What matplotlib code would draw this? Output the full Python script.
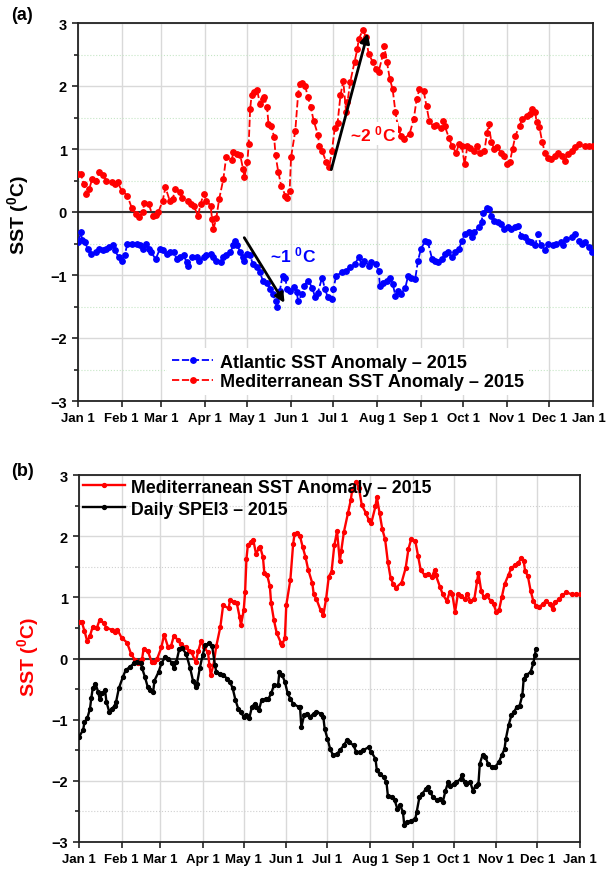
import numpy as np
import matplotlib
matplotlib.use("Agg")
import matplotlib.pyplot as plt
import matplotlib.transforms as mtransforms
from matplotlib.ticker import MultipleLocator

plt.rcParams['font.family'] = ['Liberation Sans', 'DejaVu Sans']
plt.rcParams['font.weight'] = 'bold'
plt.rcParams['mathtext.fontset'] = 'custom'
plt.rcParams['mathtext.rm'] = 'Liberation Sans:bold'
plt.rcParams['mathtext.it'] = 'Liberation Sans:bold'
plt.rcParams['mathtext.bf'] = 'Liberation Sans:bold'

# day of year (0 = Jan 1) and values
month_days = [0, 31, 59, 90, 120, 151, 181, 212, 243, 273, 304, 334, 365]
month_labels = ['Jan 1', 'Feb 1', 'Mar 1', 'Apr 1', 'May 1', 'Jun 1', 'Jul 1',
                'Aug 1', 'Sep 1', 'Oct 1', 'Nov 1', 'Dec 1', 'Jan 1']

med_days = [0, 2, 4, 6, 8, 10, 13, 15, 18, 20, 24, 26, 28, 31, 35, 38, 41, 43, 46, 47,
            50, 53, 55, 57, 60, 62, 65, 67, 69, 72, 74, 78, 80, 82, 85, 87, 89, 91, 94, 95,
            96, 98, 100, 103, 105, 109, 110, 113, 115, 117, 118, 120, 121, 122, 123, 125,
            127, 129, 131, 132, 134, 135, 137, 139, 140, 142, 144, 147, 148, 150, 151, 154,
            156, 157, 159, 161, 163, 165, 167, 170, 171, 173, 176, 178, 180, 182, 184, 186,
            188, 190, 191, 193, 196, 198, 199, 202, 204, 206, 209, 211, 213, 216, 217, 219,
            221, 223, 225, 227, 229, 231, 235, 238, 240, 242, 245, 247, 249, 252, 254, 257,
            259, 260, 263, 265, 268, 270, 272, 274, 276, 278, 281, 283, 285, 288, 290, 291,
            293, 295, 297, 300, 302, 304, 306, 308, 310, 313, 315, 318, 320, 322, 324, 325,
            327, 329, 331, 333, 335, 338, 340, 343, 345, 347, 350, 352, 355, 359, 362, 365]
med_vals = [0.60, 0.60, 0.45, 0.28, 0.37, 0.52, 0.50, 0.63, 0.58, 0.50, 0.47, 0.44, 0.47,
            0.34, 0.26, 0.07, -0.03, -0.08, 0.00, 0.15, 0.13, -0.06, -0.05, 0.00, 0.18, 0.39,
            0.18, 0.20, 0.36, 0.31, 0.23, 0.18, 0.13, 0.10, -0.06, 0.13, 0.29, 0.18, 0.10,
            -0.11, -0.27, -0.10, 0.20, 0.52, 0.87, 0.82, 0.95, 0.92, 0.90, 0.68, 0.55, 0.79,
            1.08, 1.63, 1.85, 1.90, 1.93, 1.71, 1.80, 1.82, 1.66, 1.40, 1.37, 1.19, 0.90,
            0.63, 0.42, 0.26, 0.22, 0.34, 0.87, 1.29, 1.87, 2.03, 2.05, 2.00, 1.82, 1.66,
            1.45, 1.23, 1.05, 0.97, 0.79, 0.71, 0.97, 1.34, 1.42, 1.85, 2.08, 1.59, 1.75,
            2.07, 2.38, 2.59, 2.75, 2.89, 2.78, 2.51, 2.38, 2.27, 2.22, 2.49, 2.64, 2.38,
            2.11, 1.95, 1.58, 1.32, 1.21, 1.16, 1.24, 1.48, 1.79, 1.95, 1.92, 1.68, 1.44,
            1.36, 1.38, 1.33, 1.44, 1.36, 1.17, 1.05, 0.94, 1.08, 1.05, 0.76, 1.05, 1.02,
            0.97, 1.05, 0.94, 0.97, 1.26, 1.40, 1.11, 1.00, 1.03, 0.94, 0.89, 0.76, 0.79,
            1.00, 1.21, 1.37, 1.48, 1.53, 1.56, 1.64, 1.59, 1.43, 1.35, 1.11, 0.94, 0.86,
            0.84, 0.89, 0.94, 0.89, 0.81, 0.92, 0.97, 1.03, 1.08, 1.05, 1.05, 1.05]

atl_days = [0, 2, 3, 5, 7, 9, 13, 15, 18, 20, 22, 25, 26, 29, 31, 33, 35, 38, 42, 44, 46,
            48, 50, 52, 55, 58, 60, 63, 65, 68, 70, 72, 75, 77, 78, 81, 84, 86, 89, 91, 94,
            96, 98, 101, 103, 105, 108, 110, 111, 113, 115, 117, 118, 120, 122, 124, 127,
            129, 131, 134, 136, 138, 140, 141, 143, 145, 147, 148, 150, 153, 155, 156, 159,
            160, 163, 166, 168, 170, 173, 175, 177, 180, 181, 183, 187, 190, 193, 196, 199,
            201, 203, 206, 208, 211, 213, 214, 216, 219, 221, 223, 225, 227, 229, 232, 234,
            236, 239, 241, 243, 246, 248, 251, 253, 255, 258, 260, 262, 265, 267, 270, 272,
            274, 277, 279, 281, 284, 286, 287, 290, 291, 293, 295, 298, 300, 302, 305, 307,
            310, 312, 314, 317, 319, 321, 324, 326, 328, 331, 333, 337, 339, 342, 344, 346,
            350, 352, 355, 357, 359, 362, 364]
atl_vals = [-0.48, -0.32, -0.45, -0.48, -0.59, -0.67, -0.64, -0.59, -0.61, -0.59, -0.56,
            -0.53, -0.61, -0.72, -0.77, -0.69, -0.51, -0.51, -0.51, -0.53, -0.59, -0.51,
            -0.59, -0.64, -0.75, -0.59, -0.61, -0.67, -0.64, -0.64, -0.75, -0.72, -0.69,
            -0.80, -0.85, -0.72, -0.72, -0.77, -0.72, -0.69, -0.67, -0.72, -0.77, -0.80,
            -0.72, -0.69, -0.64, -0.53, -0.46, -0.53, -0.64, -0.72, -0.77, -0.67, -0.69,
            -0.83, -0.88, -0.96, -1.09, -1.12, -1.22, -1.30, -1.41, -1.50, -1.25, -1.01,
            -1.04, -1.22, -1.25, -1.19, -1.27, -1.41, -1.30, -1.17, -1.09, -1.20, -1.35,
            -1.28, -1.04, -1.22, -1.35, -1.38, -1.22, -1.01, -0.96, -0.93, -0.88, -0.83,
            -0.72, -0.83, -0.77, -0.85, -0.80, -0.83, -0.93, -1.17, -1.12, -1.09, -1.04,
            -1.14, -1.33, -1.25, -1.30, -1.20, -1.01, -1.04, -1.06, -0.77, -0.59, -0.46,
            -0.48, -0.75, -0.77, -0.80, -0.75, -0.67, -0.64, -0.72, -0.64, -0.59, -0.46,
            -0.35, -0.32, -0.40, -0.32, -0.24, -0.16, -0.01, 0.07, 0.05, -0.06, -0.14,
            -0.16, -0.19, -0.27, -0.24, -0.27, -0.24, -0.22, -0.38, -0.40, -0.46, -0.48,
            -0.53, -0.35, -0.53, -0.61, -0.51, -0.53, -0.51, -0.48, -0.53, -0.43, -0.40,
            -0.35, -0.46, -0.51, -0.48, -0.56, -0.64]

spei_days = [0, 3, 4, 6, 8, 9, 10, 12, 14, 15, 17, 19, 20, 22, 24, 26, 27, 29, 32, 34, 37,
             40, 42, 45, 46, 48, 50, 52, 54, 55, 58, 60, 63, 65, 68, 69, 71, 73, 75, 78, 81,
             83, 85, 86, 88, 90, 92, 95, 97, 99, 100, 103, 105, 108, 110, 112, 114, 116, 118,
             120, 122, 124, 126, 128, 129, 131, 133, 136, 138, 140, 142, 145, 146, 148, 150,
             152, 154, 156, 160, 161, 162, 164, 166, 168, 171, 173, 176, 178, 179, 181, 183,
             185, 188, 190, 193, 195, 197, 200, 202, 205, 207, 211, 213, 216, 217, 219, 222,
             224, 225, 228, 230, 232, 234, 236, 237, 239, 242, 245, 246, 248, 250, 253, 254,
             256, 258, 261, 263, 265, 267, 269, 270, 273, 275, 278, 279, 281, 282, 285, 287,
             289, 291, 292, 294, 296, 298, 301, 303, 306, 308, 310, 311, 313, 315, 317, 319,
             321, 323, 324, 326, 329, 331, 332, 333]
spei_vals = [-1.28, -1.17, -1.04, -0.98, -0.82, -0.64, -0.49, -0.41, -0.55, -0.66, -0.57,
             -0.52, -0.71, -0.87, -0.82, -0.77, -0.71, -0.49, -0.30, -0.19, -0.14, -0.08,
             -0.05, -0.08, -0.16, -0.30, -0.46, -0.52, -0.55, -0.36, -0.22, -0.08, 0.03,
             0.00, -0.08, -0.16, -0.05, 0.15, 0.17, 0.08, -0.16, -0.36, -0.46, -0.41, -0.16,
             0.05, 0.22, 0.25, 0.20, -0.10, -0.22, -0.25, -0.27, -0.33, -0.38, -0.49, -0.68,
             -0.82, -0.87, -0.96, -0.93, -0.98, -0.79, -0.74, -0.79, -0.85, -0.68, -0.66,
             -0.66, -0.57, -0.44, -0.44, -0.22, -0.27, -0.38, -0.57, -0.66, -0.74, -0.79,
             -0.79, -1.12, -0.93, -0.90, -0.96, -0.90, -0.87, -0.90, -0.96, -1.15, -1.31,
             -1.48, -1.58, -1.56, -1.50, -1.42, -1.34, -1.37, -1.42, -1.53, -1.53, -1.50,
             -1.45, -1.53, -1.64, -1.83, -1.89, -1.94, -2.02, -2.24, -2.27, -2.32, -2.46,
             -2.40, -2.51, -2.73, -2.68, -2.65, -2.62, -2.51, -2.27, -2.21, -2.13, -2.10,
             -2.19, -2.27, -2.32, -2.30, -2.35, -2.16, -2.02, -2.08, -2.05, -2.02, -1.97,
             -1.91, -2.02, -2.05, -2.02, -2.16, -2.08, -2.05, -1.72, -1.58, -1.61, -1.72,
             -1.78, -1.78, -1.69, -1.58, -1.48, -1.31, -1.09, -0.93, -0.87, -0.79, -0.77,
             -0.60, -0.33, -0.27, -0.22, -0.08, 0.05, 0.16]

RED = '#ff0000'
BLUE = '#0000ff'


def style_axes(ax, minor_color):
    ax.set_xlim(0, 365)
    ax.set_ylim(-3, 3)
    ax.set_xticks(month_days)
    ax.set_xticklabels(month_labels, fontsize=9.5, fontweight='bold')
    ax.yaxis.set_major_locator(MultipleLocator(1))
    ax.yaxis.set_minor_locator(MultipleLocator(0.5))
    for lab in ax.get_yticklabels():
        lab.set_fontsize(10.5)
        lab.set_fontweight('bold')
    ax.tick_params(axis='both', which='major', direction='out', length=4, width=1.2,
                   color='#222222', pad=4)
    ax.tick_params(axis='y', which='minor', direction='out', length=3, width=1.2,
                   color='#222222')
    ax.grid(True, which='major', color='#d9d9d9', lw=1.0)
    ax.grid(True, which='minor', axis='y', color=minor_color, lw=0.8, ls=':')
    ax.set_axisbelow(True)
    for sp in ax.spines.values():
        sp.set_color('#222222')
        sp.set_linewidth(1.3)
    ax.axhline(0, color='#333333', lw=1.5, zorder=1.5)


fig = plt.figure(figsize=(6.08, 8.70), dpi=100)

# ---- panel (a)
ax1 = fig.add_axes([78 / 608, 1 - 402 / 870, 515 / 608, 378 / 870])
style_axes(ax1, '#c6e6c6')
# last "Jan 1" sits on the figure edge: nudge it left a few pixels
last = ax1.get_xticklabels()[-1]
last.set_transform(last.get_transform() +
                   mtransforms.ScaledTranslation(-4 / 100, 0, fig.dpi_scale_trans))
ax1.plot(atl_days, atl_vals, color=BLUE, ls=(0, (4, 1.5)), lw=1.3, marker='o', ms=3.9,
         label='Atlantic SST Anomaly \u2013 2015', zorder=3)
ax1.plot(med_days, med_vals, color=RED, ls=(0, (4, 1.5)), lw=1.3, marker='o', ms=3.9,
         label='Mediterranean SST Anomaly \u2013 2015', zorder=3)
ax1.annotate('', xy=(147.4, -1.48), xytext=(116.8, -0.37),
             arrowprops=dict(arrowstyle='-|>', color='k', lw=2, mutation_scale=14), zorder=4)
ax1.annotate('', xy=(205.8, 2.88), xytext=(179, 0.63),
             arrowprops=dict(arrowstyle='-|>', color='k', lw=2, mutation_scale=14), zorder=4)
ax1.text(136, -0.67, '~1 $^{0}$C', color=BLUE, fontsize=12.5, fontweight='bold',
         ha='left', va='center', zorder=5)
ax1.text(193, 1.25, '~2 $^{0}$C', color=RED, fontsize=12.5, fontweight='bold',
         ha='left', va='center', zorder=5,
         bbox=dict(facecolor='white', edgecolor='none', pad=1))
leg1 = ax1.legend(loc='center', bbox_to_anchor=(0.524, 0.077), fontsize=13,
                  frameon=True, facecolor='white', edgecolor='none', framealpha=1,
                  handlelength=2.3, handletextpad=0.35, labelspacing=0.12,
                  borderpad=0.3)
for t in leg1.get_texts():
    t.set_fontweight('bold')

# ---- panel (b)
ax2 = fig.add_axes([79 / 608, 1 - 843 / 870, 501 / 608, 367 / 870])
style_axes(ax2, '#d0d0d0')
ax2.plot(med_days, med_vals, color=RED, lw=1.7, marker='o', ms=2.8,
         label='Mediterranean SST Anomaly \u2013 2015', zorder=3)
ax2.plot(spei_days, spei_vals, color='k', lw=1.7, marker='o', ms=2.8,
         label='Daily SPEI3 \u2013 2015', zorder=3)
leg2 = ax2.legend(loc='upper left', bbox_to_anchor=(0, 1), fontsize=12.8,
                  frameon=False, handlelength=2.4, handletextpad=0.3,
                  labelspacing=0.28, borderpad=0.1, borderaxespad=0.1)
for t in leg2.get_texts():
    t.set_fontweight('bold')

# labels
fig.text(22 / 608, 1 - 15 / 870, '(a)', fontsize=13, fontweight='bold', ha='center', va='center')
fig.text(22 / 608, 1 - 472 / 870, '(b)', fontsize=13, fontweight='bold', ha='center', va='center')
fig.text(18 / 608, 1 - 215 / 870, 'SST ($^{0}$C)', fontsize=14, fontweight='bold',
         rotation=90, ha='center', va='center')
fig.text(28 / 608, 1 - 657 / 870, 'SST ($^{0}$C)', fontsize=14, fontweight='bold',
         rotation=90, ha='center', va='center', color=RED)

fig.savefig('out.png', dpi=100)
